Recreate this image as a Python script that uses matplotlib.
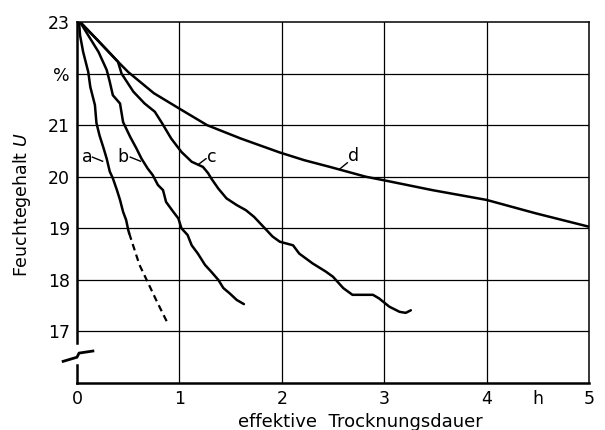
import matplotlib.pyplot as plt
from matplotlib.lines import Line2D

# Kurve a (durchgezogen, dann gestrichelt)
xa = [0.02, 0.03, 0.06, 0.11, 0.13, 0.175, 0.19, 0.22, 0.26, 0.29, 0.32, 0.35, 0.39, 0.42, 0.45, 0.48, 0.50, 0.51]
ya = [23.0, 22.74, 22.42, 22.03, 21.74, 21.39, 21.04, 20.8, 20.55, 20.35, 20.1, 19.97, 19.74, 19.55, 19.32, 19.16, 18.97, 18.9]
xa_dash = [0.51, 0.61, 0.68, 0.78, 0.88]
ya_dash = [18.9, 18.29, 18.0, 17.58, 17.18]

# Kurve b
xb = [0.03, 0.11, 0.21, 0.29, 0.32, 0.35, 0.42, 0.45, 0.52, 0.58, 0.63, 0.69, 0.74, 0.79, 0.84, 0.87, 0.94, 0.99, 1.02,
      1.08, 1.12, 1.18, 1.25, 1.31, 1.38, 1.43, 1.49, 1.56, 1.63]
yb = [23.0, 22.74, 22.42, 22.07, 21.84, 21.58, 21.42, 21.06, 20.77, 20.55, 20.35, 20.16, 20.03, 19.84, 19.74, 19.51, 19.32, 19.19, 19.0,
      18.87, 18.67, 18.51, 18.29, 18.16, 18.0, 17.84, 17.74, 17.61, 17.53]

# Kurve c
xc = [0.03, 0.2, 0.40, 0.435, 0.55, 0.66, 0.76, 0.83, 0.92, 1.02, 1.12, 1.23, 1.28, 1.31, 1.38, 1.46, 1.56, 1.65, 1.73, 1.82, 1.91,
      1.98, 2.11, 2.17, 2.3, 2.43, 2.5, 2.6, 2.69, 2.89, 2.95, 3.05, 3.15, 3.21, 3.26]
yc = [23.0, 22.65, 22.23, 22.0, 21.65, 21.42, 21.26, 21.04, 20.74, 20.48, 20.29, 20.19, 20.07, 19.97, 19.77, 19.58, 19.45, 19.35, 19.22, 19.03, 18.84,
      18.74, 18.67, 18.51, 18.32, 18.16, 18.06, 17.84, 17.71, 17.71, 17.64, 17.48, 17.38, 17.36, 17.41]

# Kurve d
xd = [0.03, 0.2, 0.40, 0.5, 0.75, 1.0, 1.27, 1.6, 1.98, 2.22, 2.47, 2.82, 3.0, 3.47, 4.0, 4.48, 5.0]
yd = [23.0, 22.65, 22.23, 22.03, 21.62, 21.32, 21.0, 20.74, 20.47, 20.32, 20.19, 20.0, 19.93, 19.74, 19.55, 19.29, 19.03]

yticks = [17, 18, 19, 20, 21, 22, 23]
ylabels = ['17', '18', '19', '20', '21', '%', '23']
xticks = [0, 1, 2, 3, 4, 4.5, 5]
xlabels = ['0', '1', '2', '3', '4', 'h', '5']

plt.rcParams['font.family'] = ['DejaVu Sans']

fig = plt.figure(figsize=(6.05, 4.30), dpi=100)
ax = fig.add_axes([77/605, 1-383/430, (589-77)/605, (383-22)/430])

ax.set_xlim(0, 5)
ax.set_ylim(16, 23)

# Gitter
for gx in range(1, 5):
    ax.axvline(gx, color='black', lw=0.9, zorder=1)
for gy in range(17, 23):
    ax.axhline(gy, color='black', lw=0.9, zorder=1)

kw = dict(color='black', lw=1.8, zorder=3, solid_capstyle='round', solid_joinstyle='round')
ax.plot(xa, ya, **kw)
ax.plot(xa_dash, ya_dash, color='black', lw=1.6, ls=(0, (3, 2)), zorder=3)
ax.plot(xb, yb, **kw)
ax.plot(xc, yc, **kw)
ax.plot(xd, yd, **kw)

# Kurvenbeschriftung
fs = 12.5
ax.text(0.10, 20.38, 'a', fontsize=fs, ha='center', va='center')
ax.plot([0.15, 0.25], [20.38, 20.3], color='black', lw=1.0)
ax.text(0.45, 20.38, 'b', fontsize=fs, ha='center', va='center')
ax.plot([0.52, 0.62], [20.38, 20.3], color='black', lw=1.0)
ax.text(1.32, 20.38, 'c', fontsize=fs, ha='center', va='center')
ax.plot([1.18, 1.26], [20.23, 20.35], color='black', lw=1.0)
ax.text(2.70, 20.40, 'd', fontsize=fs, ha='center', va='center')
ax.plot([2.56, 2.64], [20.14, 20.27], color='black', lw=1.0)

ax.set_xticks(xticks)
ax.set_xticklabels(xlabels, fontsize=fs)
ax.set_yticks(yticks)
ax.set_yticklabels(ylabels, fontsize=fs)
ax.tick_params(length=0, pad=5)

for s in ['left', 'bottom']:
    ax.spines[s].set_linewidth(1.8)
for s in ['top', 'right']:
    ax.spines[s].set_linewidth(1.1)

# Achsenbruch links
ax.spines['left'].set_bounds(16.78, 23)
ax.plot([0, 0], [16, 16.35], color='black', lw=1.8, clip_on=False, zorder=4)
ax.add_line(Line2D([-0.135, -0.0, 0.02, 0.155], [16.42, 16.50, 16.58, 16.62],
                   color='black', lw=2.0, clip_on=False))

ax.text(2.77, 15.24, 'effektive  Trocknungsdauer', fontsize=13, ha='center', va='center')
ax.text(-0.54, 19.45, 'Feuchtegehalt $\\mathit{U}$', fontsize=fs, rotation=90,
        ha='center', va='center')

fig.savefig('out.png', dpi=100)
